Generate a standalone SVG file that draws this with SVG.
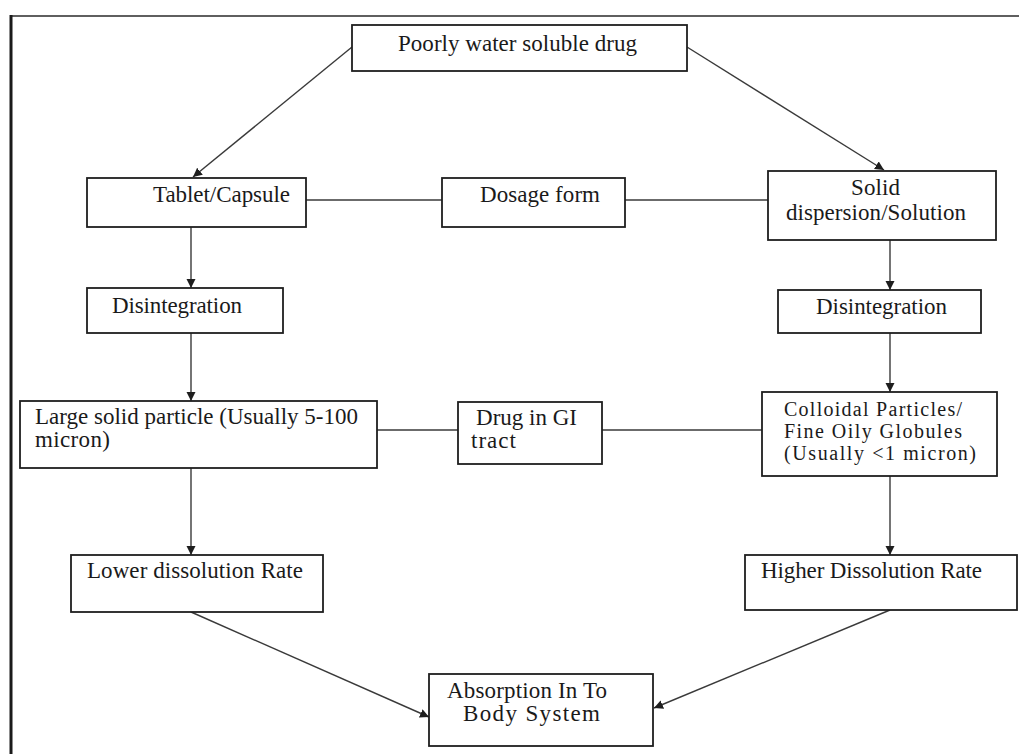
<svg xmlns="http://www.w3.org/2000/svg" width="1019" height="754" viewBox="0 0 1019 754">
<style>
.box{fill:#fff;stroke:#1e1e1e;stroke-width:1.8}
.t{font-family:"Liberation Serif","Times New Roman",serif;font-size:23px;fill:#1a1a1a}
.s{font-size:20px}
.c{stroke:#3a3a3a;stroke-width:1.4;fill:none}
.a{marker-end:url(#arr)}
</style>
<defs>
<marker id="arr" markerUnits="userSpaceOnUse" markerWidth="10" markerHeight="10" refX="9" refY="4.5" orient="auto">
<path d="M0,0 L9,4.5 L0,9 z" fill="#1e1e1e"/>
</marker>
</defs>
<rect width="1019" height="754" fill="#fff"/>
<g id="frame">
<line x1="11" y1="16" x2="1019" y2="16" stroke="#2a2a2a" stroke-width="1.6"/>
<line x1="11" y1="15" x2="11" y2="754" stroke="#1a1a1a" stroke-width="3"/>
</g>
<g id="connectors">
<line class="c a" x1="352" y1="47" x2="193" y2="177"/>
<line class="c a" x1="687" y1="47" x2="884" y2="170"/>
<line class="c" x1="306" y1="200" x2="442" y2="200"/>
<line class="c" x1="625" y1="200" x2="768" y2="200"/>
<line class="c a" x1="191" y1="227" x2="191" y2="288"/>
<line class="c a" x1="890" y1="240" x2="890" y2="290"/>
<line class="c a" x1="191" y1="333" x2="191" y2="401"/>
<line class="c a" x1="890" y1="333" x2="890" y2="392"/>
<line class="c" x1="377" y1="430" x2="458" y2="430"/>
<line class="c" x1="602" y1="430" x2="762" y2="430"/>
<line class="c a" x1="191" y1="468" x2="191" y2="555"/>
<line class="c a" x1="890" y1="476" x2="890" y2="555"/>
<line class="c a" x1="191" y1="612" x2="429" y2="717"/>
<line class="c a" x1="890" y1="610" x2="654" y2="708"/>
</g>
<g id="n1"><rect class="box" x="352" y="25" width="335" height="46"/>
<text class="t" x="398" y="51" textLength="239">Poorly water soluble drug</text></g>
<g id="n2"><rect class="box" x="87" y="178" width="219" height="49"/>
<text class="t" x="153" y="202" textLength="137">Tablet/Capsule</text></g>
<g id="n3"><rect class="box" x="442" y="178" width="183" height="49"/>
<text class="t" x="480" y="202" textLength="120">Dosage form</text></g>
<g id="n4"><rect class="box" x="768" y="171" width="228" height="69"/>
<text class="t" x="851" y="195" textLength="49">Solid</text>
<text class="t" x="786" y="220" textLength="180">dispersion/Solution</text></g>
<g id="n5"><rect class="box" x="87" y="288" width="196" height="45"/>
<text class="t" x="112" y="313" textLength="130">Disintegration</text></g>
<g id="n6"><rect class="box" x="778" y="290" width="203" height="43"/>
<text class="t" x="816" y="314" textLength="131">Disintegration</text></g>
<g id="n7"><rect class="box" x="20" y="401" width="357" height="67"/>
<text class="t" x="35" y="424" textLength="323">Large solid particle (Usually 5-100</text>
<text class="t" x="35" y="447" textLength="75">micron)</text></g>
<g id="n8"><rect class="box" x="458" y="402" width="144" height="62"/>
<text class="t" x="476" y="425" textLength="101">Drug in GI</text>
<text class="t" x="471" y="448" textLength="45">tract</text></g>
<g id="n9"><rect class="box" x="762" y="392" width="235" height="84"/>
<text class="t s" x="784" y="416" textLength="178">Colloidal Particles/</text>
<text class="t s" x="784" y="438" textLength="178">Fine Oily  Globules</text>
<text class="t s" x="784" y="460" textLength="192">(Usually &lt;1 micron)</text></g>
<g id="n10"><rect class="box" x="71" y="555" width="252" height="57"/>
<text class="t" x="87" y="578" textLength="216">Lower dissolution Rate</text></g>
<g id="n11"><rect class="box" x="745" y="555" width="272" height="55"/>
<text class="t" x="761" y="578" textLength="221">Higher Dissolution Rate</text></g>
<g id="n12"><rect class="box" x="429" y="674" width="224" height="72"/>
<text class="t" x="447" y="698" textLength="160">Absorption In To</text>
<text class="t" x="463" y="721" textLength="137">Body System</text></g>
</svg>
